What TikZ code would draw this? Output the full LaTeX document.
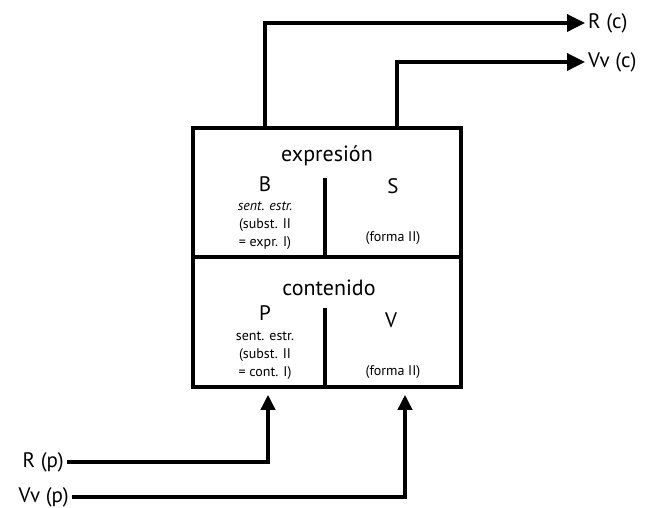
\documentclass[tikz,border=0pt]{standalone}
\usepackage{fontspec}
\setmainfont{PT Sans}
\usetikzlibrary{positioning}
\usetikzlibrary{arrows.meta}

\tikzset{
  half/.style={draw, line width=3.5pt, minimum width=268pt, inner sep=0pt},
  rule/.style={line width=3.5pt},
  flow/.style={line width=3.5pt, -{Triangle[length=18pt,width=17pt]}},
  feed/.style={line width=3.5pt, -{Triangle[length=15pt,width=14pt]}, shorten >=6pt},
  title/.style={font=\fontsize{22}{24}\selectfont},
  letter/.style={font=\fontsize{21}{23}\selectfont, inner sep=1pt},
  note/.style={font=\fontsize{14}{18}\selectfont, align=center, inner sep=1pt},
  io/.style={font=\fontsize{21}{23}\selectfont, inner sep=3pt}
}

\begin{document}
\begin{tikzpicture}[x=1pt, y=-1pt]
            \useasboundingbox (0,0) rectangle (650,507);

            % Upper half
            \node[half, minimum height=129pt] (expr) at (327,192.5) {};
            \node[title] (exprtitle) at (327,156) {expresión};
            \draw[rule] (325,178) -- (325,257);
            \node[letter] (B) at (265,184) {B};
            \node[note] (Bnote) at (265,226) {\textit{sent. estr.}\\(subst. II\\= expr. I)};
            \node[letter] (S) at (393,186) {S};
            \node[note] (Snote) at (393,238) {(forma II)};

            % Lower half
            \node[half, minimum height=130pt] (cont) at (327,322) {};
            \node[title] (conttitle) at (329,288) {contenido};
            \draw[rule] (325,308) -- (325,387);
            \node[letter] (P) at (265,313) {P};
            \node[note] (Pnote) at (265,356) {sent. estr.\\(subst. II\\= cont. I)};
            \node[letter] (V) at (391,320) {V};
            \node[note] (Vnote) at (393,372) {(forma II)};

            % Outputs
            \node[io, anchor=west] (Rc) at (585,23) {R (c)};
            \node[io, anchor=west] (Vvc) at (585,62) {Vv (c)};
            \draw[flow] ([xshift=-62pt]expr.north) |- (Rc.west);
            \draw[flow] ([xshift=70pt]expr.north) |- (Vvc.west);

            % Inputs
            \node[io, anchor=east] (Rp) at (67,462) {R (p)};
            \node[io, anchor=east] (Vvp) at (72,497) {Vv (p)};
            \draw[feed] (Rp.east) -| ([xshift=-59pt]cont.south);
            \draw[feed] (Vvp.east) -| ([xshift=78pt]cont.south);
\end{tikzpicture}
\end{document}
